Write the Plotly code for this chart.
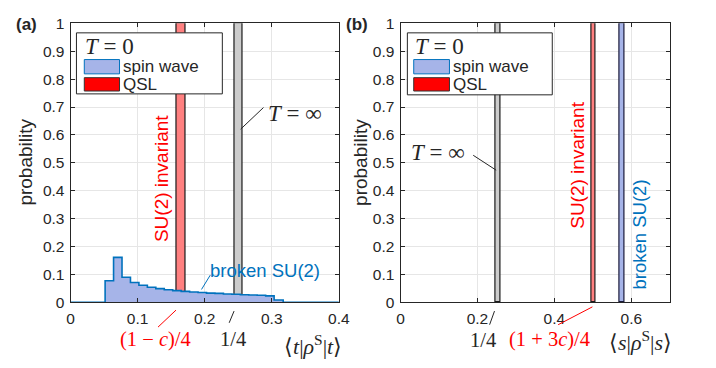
import plotly.graph_objects as go

W, H = 716, 368

# ---------------- data ----------------
# panel (a): spin-wave histogram of <t|rho^S|t>
hist_edges = [0.0515, 0.0641, 0.0767, 0.0893, 0.1019, 0.1145, 0.1271, 0.1397,
              0.1523, 0.1649, 0.1775, 0.1901, 0.2027, 0.2153, 0.2279, 0.2405,
              0.2531, 0.2657, 0.2783, 0.2909, 0.3035, 0.3170]
hist_heights = [0.077, 0.161, 0.090, 0.071, 0.061, 0.054, 0.049, 0.045,
                0.042, 0.039, 0.037, 0.035, 0.033, 0.032, 0.030, 0.029,
                0.027, 0.026, 0.025, 0.023, 0.008]
a_range = [0, 0.4]
a_qsl_x, a_qsl_p = 0.165, 1.0        # (1-c)/4
a_inf_x, a_inf_p = 0.2506, 1.0       # 1/4
# panel (b): <s|rho^S|s>
b_range = [0, 0.7]
b_inf_x, b_inf_p = 0.2525, 1.0       # 1/4
b_qsl_x, b_qsl_p = 0.502, 1.0        # (1+3c)/4
b_sw_x, b_sw_p = 0.5765, 1.0         # spin wave
bar_w = 0.0125

a_xticks = [0, 0.1, 0.2, 0.3, 0.4]
a_xlabels = ['0', '0.1', '0.2', '0.3', '0.4']
b_xticks = [0, 0.2, 0.4, 0.6]
b_xlabels = ['0', '0.2', '0.4', '0.6']
y_ticks = [0, 0.1, 0.2, 0.3, 0.4, 0.5, 0.6, 0.7, 0.8, 0.9, 1]
y_labels = ['0', '0.1', '0.2', '0.3', '0.4', '0.5', '0.6', '0.7', '0.8', '0.9', '1']

# ---------------- styles ----------------
SW_FILL = '#a6b4e8'
SW_LINE = '#0072bd'
QSL_FILL = '#ff8080'
INF_FILL = '#cccccc'
RED = '#ff0000'
BLUE = '#0072bd'
AX = '#262626'
SANS = 'Liberation Sans, Arial, sans-serif'
SERIF = 'Liberation Serif, Times New Roman, serif'

def px(x):
    return x / W

def py(y):
    return 1 - y / H

xa_dom = [px(68), px(342)]
xb_dom = [px(405), px(680)]
y_dom = [py(307.5), py(15)]

fig = go.Figure()

# histogram (step outline + fill)
hx = [a_range[0]] + hist_edges + [a_range[1]]
hy = [0] + hist_heights + [0, 0]
fig.add_trace(go.Scatter(x=hx, y=hy, mode='lines', line=dict(shape='hv', color=SW_LINE, width=1.6),
                         fill='tozeroy', fillcolor=SW_FILL, xaxis='x', yaxis='y', showlegend=False,
                         hoverinfo='skip'))

def bar(x, p, fill, xa, ya, line='#1a1a1a'):
    fig.add_trace(go.Bar(x=[x], y=[p], width=[bar_w], marker=dict(color=fill, line=dict(color=line, width=1.2)),
                         xaxis=xa, yaxis=ya, showlegend=False, hoverinfo='skip'))

bar(a_qsl_x, a_qsl_p, QSL_FILL, 'x', 'y')
bar(a_inf_x, a_inf_p, INF_FILL, 'x', 'y')
bar(b_inf_x, b_inf_p, INF_FILL, 'x2', 'y2')
bar(b_qsl_x, b_qsl_p, QSL_FILL, 'x2', 'y2')
bar(b_sw_x, b_sw_p, SW_FILL, 'x2', 'y2', line='#1a1a3a')

axis_common = dict(showline=True, linecolor=AX, linewidth=1, mirror='allticks', ticks='inside',
                   ticklen=4, tickcolor=AX, tickwidth=1, showgrid=True, gridcolor='#e6e6e6',
                   gridwidth=1, zeroline=False, tickfont=dict(family=SANS, size=15.5, color=AX))

fig.update_layout(
    width=W, height=H, margin=dict(l=0, r=0, t=0, b=0),
    paper_bgcolor='white', plot_bgcolor='white', barmode='overlay', bargap=0,
    showlegend=False,
    xaxis=dict(domain=xa_dom, range=a_range, tickvals=a_xticks, ticktext=a_xlabels,
               anchor='y', ticklabelstandoff=2, **axis_common),
    yaxis=dict(domain=y_dom, range=[0, 1], tickvals=y_ticks, ticktext=y_labels,
               anchor='x', ticklabelstandoff=2, **axis_common),
    xaxis2=dict(domain=xb_dom, range=b_range, tickvals=b_xticks, ticktext=b_xlabels,
                anchor='y2', ticklabelstandoff=2, **axis_common),
    yaxis2=dict(domain=y_dom, range=[0, 1], tickvals=y_ticks, ticktext=y_labels,
                anchor='x2', ticklabelstandoff=2, **axis_common),
)

shapes = []
ann = []

def text(t, x, y, xref, yref, size, color=AX, family=SANS, angle=0, xanchor='center', yanchor='middle'):
    ann.append(dict(text=t, x=x, y=y, xref=xref, yref=yref, showarrow=False, textangle=angle,
                    font=dict(family=family, size=size, color=color), xanchor=xanchor, yanchor=yanchor,
                    borderpad=0))

def line(x0, y0, x1, y1, xref, yref, color=AX, width=1):
    shapes.append(dict(type='line', x0=x0, y0=y0, x1=x1, y1=y1, xref=xref, yref=yref,
                       line=dict(color=color, width=width), layer='above'))

# legends
def legend(x0, x1, y0, y1, sx0, sx1):
    shapes.append(dict(type='rect', xref='paper', yref='paper', x0=px(x0), x1=px(x1), y0=py(y1), y1=py(y0),
                       fillcolor='white', line=dict(color=AX, width=1), layer='above'))
    shapes.append(dict(type='rect', xref='paper', yref='paper', x0=px(sx0), x1=px(sx1), y0=py(68), y1=py(53),
                       fillcolor=SW_FILL, line=dict(color=SW_LINE, width=1), layer='above'))
    shapes.append(dict(type='rect', xref='paper', yref='paper', x0=px(sx0), x1=px(sx1), y0=py(86), y1=py(72),
                       fillcolor='#ff0000', line=dict(color='#333333', width=1), layer='above'))
    text('<i>T</i> = 0', px(sx0), py(39), 'paper', 'paper', 23, family=SERIF, xanchor='left')
    text('spin wave', px(sx1 + 3), py(60.5), 'paper', 'paper', 17, xanchor='left')
    text('QSL', px(sx1 + 3), py(79.5), 'paper', 'paper', 17, xanchor='left')

legend(74, 223, 25, 89, 82, 118)
legend(412, 560, 25, 90, 418.5, 455)

# panel labels
text('<b>(a)</b>', px(22.5), py(16), 'paper', 'paper', 17)
text('<b>(b)</b>', px(361), py(16), 'paper', 'paper', 17)
text('probability', px(22.5), py(161), 'paper', 'paper', 19, angle=-90)
text('probability', px(364), py(161), 'paper', 'paper', 19, angle=-90)

# panel (a) annotations
text('SU(2) invariant', 0.1358, 0.444, 'x', 'y', 19, color=RED, angle=-90)
text('broken SU(2)', 0.2905, 0.1145, 'x', 'y', 18.5, color=BLUE)
line(0.1952, 0.046, 0.2083, 0.0974, 'x', 'y', color=BLUE)
text('<i>T</i> = ∞', 0.335, 0.675, 'x', 'y', 23, family=SERIF)
line(0.2536, 0.6205, 0.2876, 0.698, 'x', 'y')
text('(1 − <i>c</i>)/4', 0.127, py(346.5), 'x', 'paper', 20.5, color=RED, family=SERIF)
line(0.1304, py(333.5), 0.1572, py(315.7), 'x', 'paper', color=RED)
text('1/4', 0.2416, py(346.5), 'x', 'paper', 20.5, family=SERIF)
line(0.2365, py(329), 0.2438, py(316.7), 'x', 'paper')
text('⟨<i>t</i>|<i>ρ</i><sup>S</sup>|<i>t</i>⟩', 0.362, py(352), 'x', 'paper', 22, family=SERIF)

# panel (b) annotations
text('SU(2) invariant', 0.4582, 0.492, 'x2', 'y2', 19, color=RED, angle=-90)
text('broken SU(2)', 0.621, 0.2444, 'x2', 'y2', 18.5, color=BLUE, angle=-90)
text('<i>T</i> = ∞', 0.098, 0.538, 'x2', 'y2', 23, family=SERIF)
line(0.189, 0.527, 0.2487, 0.4735, 'x2', 'y2')
text('1/4', 0.2138, py(347), 'x2', 'paper', 20.5, family=SERIF)
line(0.2316, py(331), 0.2444, py(316.7), 'x2', 'paper')
text('(1 + 3<i>c</i>)/4', 0.388, py(347), 'x2', 'paper', 20.5, color=RED, family=SERIF)
line(0.4098, py(331), 0.4989, py(312.3), 'x2', 'paper', color=RED)
text('⟨<i>s</i>|<i>ρ</i><sup>S</sup>|<i>s</i>⟩', 0.6236, py(348.5), 'x2', 'paper', 22, family=SERIF)

fig.update_layout(shapes=shapes, annotations=ann)
fig.write_html('out.html')
